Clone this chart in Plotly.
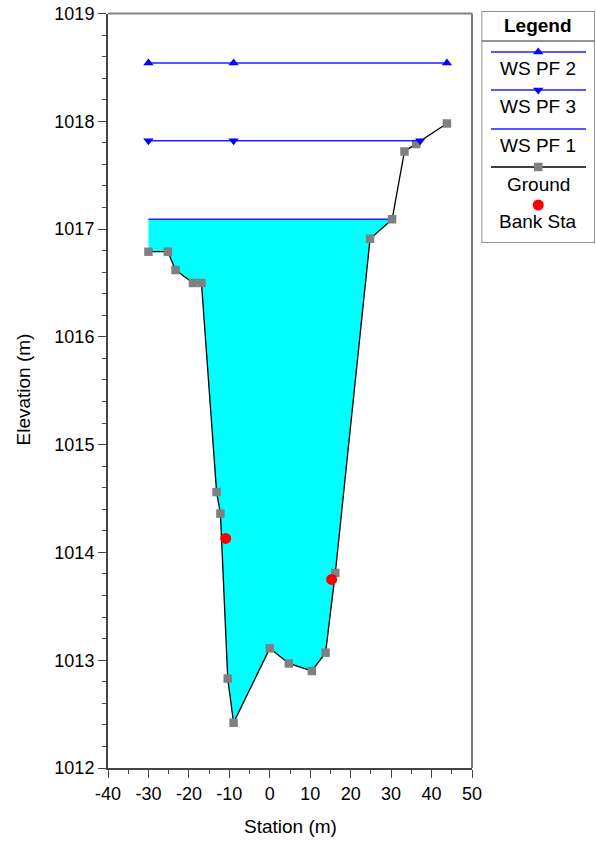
import plotly.graph_objects as go

# ---------------- data ----------------
ground_x = [-30.0, -25.2, -23.3, -19.0, -16.9, -13.15, -12.2, -10.4, -8.95, 0.0,
            4.7, 10.4, 13.8, 16.2, 24.8, 30.25, 33.3, 36.2, 43.8]
ground_z = [1016.79, 1016.79, 1016.62, 1016.50, 1016.50, 1014.56, 1014.36, 1012.83,
            1012.42, 1013.11, 1012.97, 1012.90, 1013.07, 1013.81, 1016.91, 1017.09,
            1017.72, 1017.79, 1017.98]

ws_pf1_x = [-30.0, 30.25]
ws_pf1_z = [1017.09, 1017.09]
ws_pf2_x = [-30.0, -8.95, 43.8]
ws_pf2_z = [1018.54, 1018.54, 1018.54]
ws_pf3_x = [-30.0, -8.95, 37.2]
ws_pf3_z = [1017.82, 1017.82, 1017.82]

bank_x = [-10.9, 15.3]
bank_z = [1014.13, 1013.75]

x_ticks = [-40, -30, -20, -10, 0, 10, 20, 30, 40, 50]
y_ticks = [1012, 1013, 1014, 1015, 1016, 1017, 1018, 1019]

legend_names = ["WS PF 2", "WS PF 3", "WS PF 1", "Ground", "Bank Sta"]

FONT = "Liberation Sans, Arial, sans-serif"
W, H = 596, 843

# water polygon (ground within wetted extent + water surface)
n_wet = ground_x.index(ws_pf1_x[-1]) + 1
fill_x = ground_x[:n_wet] + [ws_pf1_x[0]]
fill_z = ground_z[:n_wet] + [ws_pf1_z[0]]

fig = go.Figure()
fig.add_trace(go.Scatter(x=fill_x, y=fill_z, mode="none", fill="toself",
                         fillcolor="#00FFFF", showlegend=False, hoverinfo="skip"))
fig.add_trace(go.Scatter(x=ws_pf1_x, y=ws_pf1_z, mode="lines",
                         line=dict(color="#2020FF", width=1.5), showlegend=False))
fig.add_trace(go.Scatter(x=ground_x, y=ground_z, mode="lines+markers",
                         line=dict(color="black", width=1.3),
                         marker=dict(symbol="square", size=8.5, color="#808080"),
                         showlegend=False))
fig.add_trace(go.Scatter(x=ws_pf2_x, y=ws_pf2_z, mode="lines+markers",
                         line=dict(color="#2020FF", width=1.5),
                         marker=dict(symbol="triangle-up", size=9, color="#0000FF"),
                         showlegend=False))
fig.add_trace(go.Scatter(x=ws_pf3_x, y=ws_pf3_z, mode="lines+markers",
                         line=dict(color="#2020FF", width=1.5),
                         marker=dict(symbol="triangle-down", size=9, color="#0000FF"),
                         showlegend=False))
fig.add_trace(go.Scatter(x=bank_x, y=bank_z, mode="markers",
                         marker=dict(symbol="circle", size=11, color="#FF0000"),
                         showlegend=False))

# ---------------- custom legend (pixel-coordinate overlay axes) ----------------
LX0, LX1, LY0, LY1 = 481.5, 595.0, 11.0, 243.0
cx = (LX0 + LX1) / 2
line_x = [491, 586]
entries = [
    (legend_names[0], 52, 68.5, dict(color="#2020FF", width=1.5), dict(symbol="triangle-up", size=9, color="#0000FF")),
    (legend_names[1], 90, 107, dict(color="#2020FF", width=1.5), dict(symbol="triangle-down", size=9, color="#0000FF")),
    (legend_names[2], 129, 145.5, dict(color="#2020FF", width=1.5), None),
    (legend_names[3], 167, 184.5, dict(color="black", width=1.3), dict(symbol="square", size=8.5, color="#808080")),
    (legend_names[4], None, 222, None, dict(symbol="circle", size=11, color="#FF0000")),
]
annotations = []
for name, ly, ty, ln, mk in entries:
    if ln is not None:
        fig.add_trace(go.Scatter(x=line_x, y=[ly, ly], mode="lines", line=ln,
                                 xaxis="x2", yaxis="y2", showlegend=False, hoverinfo="skip"))
    if mk is not None:
        my = ly if ly is not None else 205
        fig.add_trace(go.Scatter(x=[cx], y=[my], mode="markers", marker=mk,
                                 xaxis="x2", yaxis="y2", showlegend=False, hoverinfo="skip"))
    annotations.append(dict(x=cx, y=ty, xref="x2", yref="y2", text=name, showarrow=False,
                            font=dict(family=FONT, size=19, color="black"),
                            xanchor="center", yanchor="middle"))
annotations.append(dict(x=cx, y=25.5, xref="x2", yref="y2", text="<b>Legend</b>", showarrow=False,
                        font=dict(family=FONT, size=19, color="black"),
                        xanchor="center", yanchor="middle"))
# axis titles
annotations.append(dict(x=290 / W, y=1 - 826 / H, xref="paper", yref="paper", text="Station (m)",
                        showarrow=False, font=dict(family=FONT, size=19, color="black"),
                        xanchor="center", yanchor="middle"))
annotations.append(dict(x=22.5 / W, y=1 - 390 / H, xref="paper", yref="paper", text="Elevation (m)",
                        showarrow=False, textangle=-90, font=dict(family=FONT, size=19, color="black"),
                        xanchor="center", yanchor="middle"))

shapes = [
    dict(type="rect", xref="x2", yref="y2", x0=LX0, x1=LX1, y0=LY0, y1=LY1,
         line=dict(color="#707070", width=1.5), layer="above"),
    dict(type="line", xref="x2", yref="y2", x0=LX0, x1=LX1, y0=41, y1=41,
         line=dict(color="#707070", width=1.5), layer="above"),
    # top and right frame of the plot
    dict(type="line", xref="x domain", yref="y domain", x0=0, x1=1, y0=1, y1=1,
         line=dict(color="#808080", width=2), layer="above"),
    dict(type="line", xref="x domain", yref="y domain", x0=1, x1=1, y0=0, y1=1,
         line=dict(color="#808080", width=2), layer="above"),
]

axis_common = dict(showgrid=False, zeroline=False, showline=True, linecolor="#444444",
                   linewidth=2, ticks="outside", ticklen=8, tickwidth=1, tickcolor="#444444",
                   tickfont=dict(family=FONT, size=18, color="black"), automargin=False)

fig.update_layout(
    width=W, height=H,
    margin=dict(l=0, r=0, t=0, b=0),
    paper_bgcolor="white", plot_bgcolor="white",
    showlegend=False,
    xaxis=dict(domain=[108 / W, 472 / W], range=[-40, 50], tickmode="array",
               tickvals=x_ticks, ticktext=[str(v) for v in x_ticks],
               minor=dict(dtick=5, tick0=0, ticks="outside", ticklen=4, tickcolor="#444444"),
               **axis_common),
    yaxis=dict(domain=[1 - 768 / H, 1 - 13.5 / H], range=[1012, 1019], tickmode="array",
               tickvals=y_ticks, ticktext=[str(v) for v in y_ticks],
               minor=dict(dtick=0.2, tick0=1012, ticks="outside", ticklen=4, tickcolor="#444444"),
               **axis_common),
    xaxis2=dict(domain=[LX0 / W, LX1 / W], range=[LX0, LX1], visible=False, fixedrange=True),
    yaxis2=dict(domain=[1 - LY1 / H, 1 - LY0 / H], range=[LY1, LY0], visible=False, fixedrange=True),
    shapes=shapes,
    annotations=annotations,
    font=dict(family=FONT, size=18, color="black"),
)

fig.write_html("out.html", config={"displayModeBar": False},
               post_script="document.body.style.margin='0';document.body.style.overflow='hidden';")
